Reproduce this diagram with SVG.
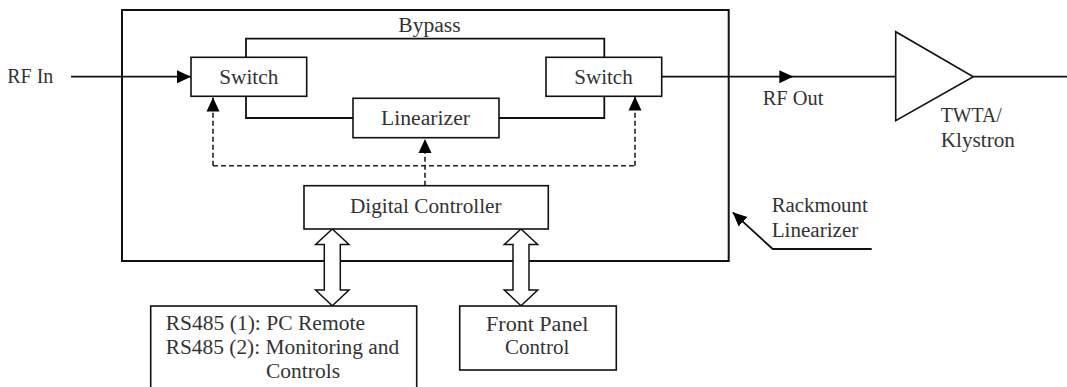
<svg xmlns="http://www.w3.org/2000/svg" width="1067" height="387" viewBox="0 0 1067 387">
<defs>
<style>
text{font-family:"Liberation Serif","DejaVu Serif",serif;font-size:20px;fill:#333;}
.box{fill:#fff;stroke:#111;stroke-width:1.6;}
.ln{fill:none;stroke:#111;stroke-width:1.8;}
.dash{fill:none;stroke:#222;stroke-width:1.6;stroke-dasharray:5 3;}
.dbl{fill:#fff;stroke:#111;stroke-width:1.5;stroke-linejoin:miter;}
</style>
<marker id="ah" markerUnits="userSpaceOnUse" markerWidth="14" markerHeight="14" viewBox="0 0 14 14" refX="14" refY="7" orient="auto">
<path d="M0,0.5 L14,7 L0,13.5 Z" fill="#000"/>
</marker>
</defs>
<rect width="1067" height="387" fill="#fff"/>

<g id="rackmount">
<rect x="122" y="10" width="606.7" height="251" fill="none" stroke="#111" stroke-width="2"/>
</g>

<g id="connectors">
<path class="ln" d="M71,76.7 H191" marker-end="url(#ah)"/>
<path class="ln" d="M246,57.3 V38.7 H604.3 V57.3"/>
<path class="ln" d="M246,96.3 V118 H353"/>
<path class="ln" d="M499,118 H604.3 V96.3"/>
<path class="ln" d="M661.7,76.7 H793.3" marker-end="url(#ah)"/>
<path class="ln" d="M793,76.7 H895.7"/>
<path class="ln" d="M973.3,76.7 H1067"/>
<path class="dash" d="M213,165.7 H635"/>
<path class="dash" d="M213,165.7 V97.5" marker-end="url(#ah)"/>
<path class="dash" d="M635,165.7 V96.5" marker-end="url(#ah)"/>
<path class="dash" d="M425,185.7 V139" marker-end="url(#ah)"/>
<path class="ln" d="M871.7,249 H772.7 L732.7,212.3" marker-end="url(#ah)"/>
<polygon class="dbl" points="332.3,229 349,244.5 340.3,244.5 340.3,290 349,290 332.3,305.7 315.6,290 324.3,290 324.3,244.5 315.6,244.5"/>
<polygon class="dbl" points="521,229 537.7,244.5 529,244.5 529,290 537.7,290 521,305.7 504.3,290 513,290 513,244.5 504.3,244.5"/>
</g>

<g id="rf-in"><text x="7.3" y="83" textLength="46" lengthAdjust="spacingAndGlyphs">RF In</text></g>
<g id="bypass"><text x="398.3" y="31.5" textLength="62.3" lengthAdjust="spacingAndGlyphs">Bypass</text></g>

<g id="switch-left">
<rect class="box" x="191" y="57.3" width="115.7" height="39"/>
<text x="248.8" y="84" text-anchor="middle" textLength="59" lengthAdjust="spacingAndGlyphs">Switch</text>
</g>

<g id="switch-right">
<rect class="box" x="546" y="57.3" width="115.7" height="39"/>
<text x="603.5" y="84" text-anchor="middle" textLength="58.4" lengthAdjust="spacingAndGlyphs">Switch</text>
</g>

<g id="linearizer">
<rect class="box" x="353" y="98.3" width="146" height="39.4"/>
<text x="425.5" y="125" text-anchor="middle" textLength="89" lengthAdjust="spacingAndGlyphs">Linearizer</text>
</g>

<g id="digital-controller">
<rect class="box" x="304" y="185.7" width="244.3" height="43.3"/>
<text x="425.8" y="213" text-anchor="middle" textLength="151.7" lengthAdjust="spacingAndGlyphs">Digital Controller</text>
</g>

<g id="rs485">
<rect class="box" x="150.7" y="306" width="266" height="100"/>
<text x="165.7" y="330" textLength="199.3" lengthAdjust="spacingAndGlyphs">RS485 (1): PC Remote</text>
<text x="165.7" y="354" textLength="233.5" lengthAdjust="spacingAndGlyphs">RS485 (2): Monitoring and</text>
<text x="266" y="378" textLength="74" lengthAdjust="spacingAndGlyphs">Controls</text>
</g>

<g id="front-panel">
<rect class="box" x="459.7" y="306" width="156.6" height="64"/>
<text x="537.2" y="330.7" text-anchor="middle" textLength="102.3" lengthAdjust="spacingAndGlyphs">Front Panel</text>
<text x="537.2" y="354" text-anchor="middle" textLength="64.3" lengthAdjust="spacingAndGlyphs">Control</text>
</g>

<g id="rackmount-label">
<text x="771.7" y="212.3" textLength="96" lengthAdjust="spacingAndGlyphs">Rackmount</text>
<text x="771.7" y="237.3" textLength="86.7" lengthAdjust="spacingAndGlyphs">Linearizer</text>
</g>

<g id="rf-out"><text x="762.7" y="105" textLength="60.7" lengthAdjust="spacingAndGlyphs">RF Out</text></g>

<g id="twta">
<polygon points="895.7,31.7 895.7,120.7 973.3,76.7" fill="#fff" stroke="#111" stroke-width="1.6"/>
<text x="940.7" y="122.3" textLength="61" lengthAdjust="spacingAndGlyphs">TWTA/</text>
<text x="940.7" y="146.7" textLength="74.3" lengthAdjust="spacingAndGlyphs">Klystron</text>
</g>
</svg>
